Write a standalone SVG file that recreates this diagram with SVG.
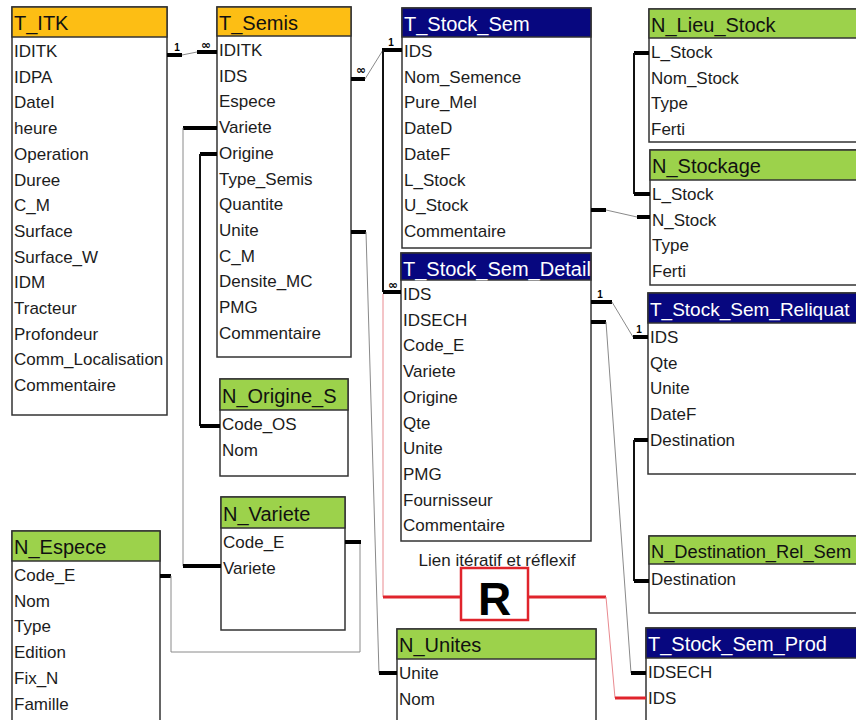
<svg xmlns="http://www.w3.org/2000/svg" width="856" height="720" viewBox="0 0 856 720">
<style>
.box{fill:#fff;stroke:#333;stroke-width:1.5}
.ho{fill:#FDBE14;stroke:#333;stroke-width:1.5}
.hg{fill:#9CD24B;stroke:#333;stroke-width:1.5}
.hn{fill:#07077F;stroke:#333;stroke-width:1.5}
.ht{font-family:"Liberation Sans",Arial,sans-serif;font-size:20px;fill:#111}
.htw{font-family:"Liberation Sans",Arial,sans-serif;font-size:20px;fill:#fff}
.f{font-family:"Liberation Sans",Arial,sans-serif;font-size:17px;fill:#1c1c1c}
.stub{stroke:#000;stroke-width:4;fill:none}
.thin{stroke:#8a8a8a;stroke-width:1;fill:none}
.med{stroke:#111;stroke-width:2;fill:none}
.lbl{font-family:"Liberation Sans",Arial,sans-serif;font-size:10px;font-weight:bold;fill:#000}
.inf{font-family:"DejaVu Sans",sans-serif;font-size:12px;font-weight:bold;fill:#000}
.red{stroke:#E0242C;stroke-width:3;fill:none}
.redthin{stroke:#E98A90;stroke-width:1;fill:none}
.note{font-family:"Liberation Sans",Arial,sans-serif;font-size:17px;fill:#1c1c1c}
.R{font-family:"Liberation Sans",Arial,sans-serif;font-size:46px;font-weight:bold;fill:#000}
</style>
<rect width="856" height="720" fill="#fff"/>

<g id="T_ITK">
<rect class="box" x="12" y="7" width="155" height="408"/>
<rect class="ho" x="12" y="7" width="155" height="30"/>
<text class="ht" x="14" y="30">T_ITK</text>
<text class="f" x="14" y="57">IDITK</text>
<text class="f" x="14" y="82.7">IDPA</text>
<text class="f" x="14" y="108.4">DateI</text>
<text class="f" x="14" y="134.1">heure</text>
<text class="f" x="14" y="159.8">Operation</text>
<text class="f" x="14" y="185.5">Duree</text>
<text class="f" x="14" y="211.2">C_M</text>
<text class="f" x="14" y="236.9">Surface</text>
<text class="f" x="14" y="262.6">Surface_W</text>
<text class="f" x="14" y="288.3">IDM</text>
<text class="f" x="14" y="314">Tracteur</text>
<text class="f" x="14" y="339.7">Profondeur</text>
<text class="f" x="14" y="365.4">Comm_Localisation</text>
<text class="f" x="14" y="391.1">Commentaire</text>
</g>

<g id="T_Semis">
<rect class="box" x="217" y="7" width="134" height="350"/>
<rect class="ho" x="217" y="7" width="134" height="29"/>
<text class="ht" x="219" y="30">T_Semis</text>
<text class="f" x="219" y="56">IDITK</text>
<text class="f" x="219" y="81.7">IDS</text>
<text class="f" x="219" y="107.4">Espece</text>
<text class="f" x="219" y="133.1">Variete</text>
<text class="f" x="219" y="158.8">Origine</text>
<text class="f" x="219" y="184.5">Type_Semis</text>
<text class="f" x="219" y="210.2">Quantite</text>
<text class="f" x="219" y="235.9">Unite</text>
<text class="f" x="219" y="261.6">C_M</text>
<text class="f" x="219" y="287.3">Densite_MC</text>
<text class="f" x="219" y="313">PMG</text>
<text class="f" x="219" y="338.7">Commentaire</text>
</g>

<g id="N_Origine_S">
<rect class="box" x="220" y="379" width="128" height="97"/>
<rect class="hg" x="220" y="379" width="128" height="31"/>
<text class="ht" x="222" y="403">N_Origine_S</text>
<text class="f" x="222" y="430">Code_OS</text>
<text class="f" x="222" y="455.7">Nom</text>
</g>

<g id="N_Variete">
<rect class="box" x="221" y="497" width="124" height="133"/>
<rect class="hg" x="221" y="497" width="124" height="31"/>
<text class="ht" x="223" y="521">N_Variete</text>
<text class="f" x="223" y="548">Code_E</text>
<text class="f" x="223" y="573.7">Variete</text>
</g>

<g id="N_Espece">
<rect class="box" x="12" y="531" width="148" height="200"/>
<rect class="hg" x="12" y="531" width="148" height="30"/>
<text class="ht" x="14" y="554">N_Espece</text>
<text class="f" x="14" y="581">Code_E</text>
<text class="f" x="14" y="606.7">Nom</text>
<text class="f" x="14" y="632.4">Type</text>
<text class="f" x="14" y="658.1">Edition</text>
<text class="f" x="14" y="683.8">Fix_N</text>
<text class="f" x="14" y="709.5">Famille</text>
</g>

<g id="T_Stock_Sem">
<rect class="box" x="402" y="8" width="189" height="240"/>
<rect class="hn" x="402" y="8" width="189" height="29"/>
<text class="htw" x="404" y="31">T_Stock_Sem</text>
<text class="f" x="404" y="57">IDS</text>
<text class="f" x="404" y="82.7">Nom_Semence</text>
<text class="f" x="404" y="108.4">Pure_Mel</text>
<text class="f" x="404" y="134.1">DateD</text>
<text class="f" x="404" y="159.8">DateF</text>
<text class="f" x="404" y="185.5">L_Stock</text>
<text class="f" x="404" y="211.2">U_Stock</text>
<text class="f" x="404" y="236.9">Commentaire</text>
</g>

<g id="T_Stock_Sem_Detail">
<rect class="box" x="401" y="253" width="190" height="288"/>
<rect class="hn" x="401" y="253" width="190" height="27"/>
<text class="htw" x="403" y="276">T_Stock_Sem_Detail</text>
<text class="f" x="403" y="300">IDS</text>
<text class="f" x="403" y="325.7">IDSECH</text>
<text class="f" x="403" y="351.4">Code_E</text>
<text class="f" x="403" y="377.1">Variete</text>
<text class="f" x="403" y="402.8">Origine</text>
<text class="f" x="403" y="428.5">Qte</text>
<text class="f" x="403" y="454.2">Unite</text>
<text class="f" x="403" y="479.9">PMG</text>
<text class="f" x="403" y="505.6">Fournisseur</text>
<text class="f" x="403" y="531.3">Commentaire</text>
</g>

<g id="N_Unites">
<rect class="box" x="397" y="629" width="199" height="100"/>
<rect class="hg" x="397" y="629" width="199" height="30"/>
<text class="ht" x="399" y="652">N_Unites</text>
<text class="f" x="399" y="679">Unite</text>
<text class="f" x="399" y="704.7">Nom</text>
</g>

<g id="N_Lieu_Stock">
<rect class="box" x="649" y="9" width="220" height="133"/>
<rect class="hg" x="649" y="9" width="220" height="29"/>
<text class="ht" x="651" y="32">N_Lieu_Stock</text>
<text class="f" x="651" y="58">L_Stock</text>
<text class="f" x="651" y="83.7">Nom_Stock</text>
<text class="f" x="651" y="109.4">Type</text>
<text class="f" x="651" y="135.1">Ferti</text>
</g>

<g id="N_Stockage">
<rect class="box" x="650" y="150" width="220" height="135"/>
<rect class="hg" x="650" y="150" width="220" height="30"/>
<text class="ht" x="652" y="173">N_Stockage</text>
<text class="f" x="652" y="200">L_Stock</text>
<text class="f" x="652" y="225.7">N_Stock</text>
<text class="f" x="652" y="251.4">Type</text>
<text class="f" x="652" y="277.1">Ferti</text>
</g>

<g id="T_Stock_Sem_Reliquat">
<rect class="box" x="648" y="293" width="220" height="181"/>
<rect class="hn" x="648" y="293" width="220" height="30"/>
<text class="htw" x="650" y="316" style="font-size:19px">T_Stock_Sem_Reliquat</text>
<text class="f" x="650" y="343">IDS</text>
<text class="f" x="650" y="368.7">Qte</text>
<text class="f" x="650" y="394.4">Unite</text>
<text class="f" x="650" y="420.1">DateF</text>
<text class="f" x="650" y="445.8">Destination</text>
</g>

<g id="N_Destination_Rel_Sem">
<rect class="box" x="649" y="536" width="220" height="77"/>
<rect class="hg" x="649" y="536" width="220" height="28"/>
<text class="ht" x="651" y="558" style="font-size:18.3px">N_Destination_Rel_Sem</text>
<text class="f" x="651" y="585">Destination</text>
</g>

<g id="T_Stock_Sem_Prod">
<rect class="box" x="646" y="628" width="220" height="100"/>
<rect class="hn" x="646" y="628" width="220" height="30"/>
<text class="htw" x="648" y="651">T_Stock_Sem_Prod</text>
<text class="f" x="648" y="678">IDSECH</text>
<text class="f" x="648" y="703.7">IDS</text>
</g>

<g id="R_link">
<text class="note" x="497" y="566" text-anchor="middle">Lien itératif et réflexif</text>
<rect x="461" y="568" width="67" height="52" fill="#fff" stroke="#E0242C" stroke-width="2.5"/>
<text class="R" x="494.5" y="615" text-anchor="middle">R</text>
</g>

<g id="connectors">
<line class="stub" x1="167" y1="55" x2="182" y2="55"/>
<line class="thin" x1="182" y1="55" x2="197" y2="52"/>
<line class="stub" x1="197" y1="52" x2="217" y2="52"/>
<text class="lbl" x="177" y="51" text-anchor="middle">1</text>
<text class="inf" x="206" y="49" text-anchor="middle">∞</text>
<line class="stub" x1="351" y1="79" x2="365" y2="79"/>
<text class="inf" x="361" y="74" text-anchor="middle">∞</text>
<line class="thin" x1="365" y1="79" x2="383" y2="50"/>
<line class="stub" x1="382" y1="50" x2="402" y2="50"/>
<text class="lbl" x="391" y="46" text-anchor="middle">1</text>
<line class="med" x1="383" y1="50" x2="383" y2="292"/>
<line class="stub" x1="383" y1="292" x2="401" y2="292"/>
<text class="inf" x="393" y="289" text-anchor="middle">∞</text>
<line class="stub" x1="183" y1="128" x2="217" y2="128"/>
<line class="thin" x1="183" y1="128" x2="183" y2="566"/>
<line class="stub" x1="183" y1="566" x2="221" y2="566"/>
<line class="stub" x1="200" y1="154" x2="217" y2="154"/>
<line class="med" x1="200" y1="154" x2="200" y2="426"/>
<line class="stub" x1="200" y1="426" x2="220" y2="426"/>
<line class="stub" x1="351" y1="232" x2="366" y2="232"/>
<line class="thin" x1="366" y1="232" x2="379" y2="673"/>
<line class="stub" x1="379" y1="673" x2="397" y2="673"/>
<line class="stub" x1="160" y1="576" x2="171" y2="576"/>
<polyline class="thin" points="171,576 171,652 360,652 360,542"/>
<line class="stub" x1="345" y1="542" x2="361" y2="542"/>
<line class="stub" x1="591" y1="210" x2="606" y2="210"/>
<line class="thin" x1="606" y1="210" x2="637" y2="217"/>
<line class="stub" x1="637" y1="217" x2="650" y2="217"/>
<line class="stub" x1="634" y1="53" x2="649" y2="53"/>
<line class="med" x1="634" y1="53" x2="634" y2="194"/>
<line class="stub" x1="634" y1="194" x2="650" y2="194"/>
<line class="stub" x1="591" y1="302" x2="612" y2="302"/>
<text class="lbl" x="600" y="298" text-anchor="middle">1</text>
<line class="thin" x1="612" y1="302" x2="633" y2="337"/>
<line class="stub" x1="633" y1="337" x2="648" y2="337"/>
<text class="lbl" x="639" y="333" text-anchor="middle">1</text>
<line class="stub" x1="591" y1="322" x2="606" y2="322"/>
<line class="thin" x1="606" y1="322" x2="631" y2="673"/>
<line class="stub" x1="631" y1="673" x2="646" y2="673"/>
<line class="stub" x1="634" y1="440" x2="648" y2="440"/>
<line class="med" x1="634" y1="440" x2="634" y2="581"/>
<line class="stub" x1="634" y1="581" x2="649" y2="581"/>
<line class="redthin" x1="383" y1="294" x2="383" y2="597"/>
<line class="red" x1="383" y1="597" x2="461" y2="597"/>
<line class="red" x1="528" y1="597" x2="606" y2="597"/>
<line class="redthin" x1="606" y1="597" x2="615" y2="698"/>
<line class="red" x1="615" y1="698" x2="646" y2="698"/>
</g>
</svg>
